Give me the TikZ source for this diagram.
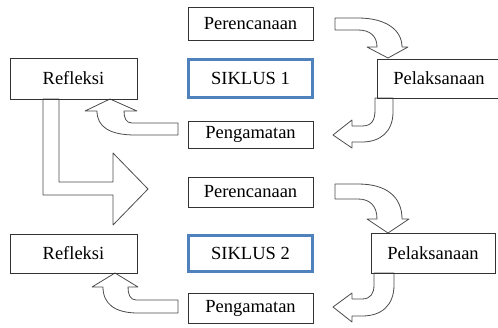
\documentclass[tikz,border=0pt]{standalone}
\usepackage{fontspec}
\setmainfont{Liberation Serif}
\usepackage{xcolor}
\usepackage{tikz}
\definecolor{siklusblue}{RGB}{79,129,189}
\tikzset{
	kotak/.style 2 args={draw=black!80,line width=1pt,minimum width=#1pt,minimum height=#2pt,inner sep=0pt,font=\fontsize{18.5}{22}\selectfont},
	siklus/.style 2 args={kotak={#1}{#2},draw=siklusblue,line width=3pt},
	panah/.style={draw=black!70,fill=white,line width=0.8pt,line join=round}
}

\begin{document}
\begin{tikzpicture}[x=1pt,y=-1pt]
		\useasboundingbox (0,0) rectangle (498,327);
		% block arrows
		\path[panah] (335,18) -- (358,18) .. controls (386,18) and (402,30) .. (402,47) -- (408,47) -- (388,58) -- (367,47) -- (377,47) .. controls (377,36) and (370,30) .. (358,30) -- (335,30) -- cycle;
		\path[panah] (375,98) -- (393,98) -- (393,112) .. controls (393,132) and (380,142) .. (362,142) -- (352,142) -- (352,148) -- (333,135) -- (352,120) -- (352,126) -- (362,126) .. controls (372,126) and (375,120) .. (375,110) -- cycle;
		\path[panah] (178,123) -- (132,123) .. controls (126,123) and (124,118) .. (124,111) -- (137,111) -- (110,99) -- (85,111) -- (97,111) .. controls (97,127) and (110,135) .. (135,135) -- (178,135) -- cycle;
		\path[panah] (43,99) -- (43,195) -- (113,195) -- (113,225) -- (148,189) -- (113,153) -- (113,182) -- (59,182) -- (59,99) -- cycle;
		\path[panah] (335,184) -- (358,184) .. controls (388,184) and (402,198) .. (402,219) -- (409,219) -- (388,233) -- (367,219) -- (377,219) .. controls (377,206) and (370,199) .. (358,199) -- (335,199) -- cycle;
		\path[panah] (374,273) -- (394,273) -- (394,285) .. controls (394,305) and (382,316) .. (362,316) -- (352,316) -- (352,322) -- (333,307) -- (352,293) -- (352,299) -- (362,299) .. controls (371,299) and (374,293) .. (374,285) -- cycle;
		\path[panah] (178,300) -- (136,300) .. controls (130,300) and (128,294) .. (128,287) -- (138,287) -- (115,273) -- (92,287) -- (103,287) .. controls (103,304) and (115,313) .. (138,313) -- (178,313) -- cycle;
		%
		% siklus 1
		\node[kotak={125}{33}] (rencana1) at (250.5,23.5) {Perencanaan};
		\node[siklus={124}{38}] (siklus1) at (250.5,78.5) {SIKLUS 1};
		\node[kotak={127}{41}] (refleksi1) at (73.5,78.5) {Refleksi};
		\node[kotak={124}{39}] (laksana1) at (439,78.5) {Pelaksanaan};
		\node[kotak={125}{27}] (amat1) at (250.5,134.5) {Pengamatan};
		%
		% siklus 2
		\node[kotak={125}{30}] (rencana2) at (250.5,192) {Perencanaan};
		\node[siklus={124}{36}] (siklus2) at (250.5,253.5) {SIKLUS 2};
		\node[kotak={127}{39}] (refleksi2) at (73.5,253.5) {Refleksi};
		\node[kotak={124}{40}] (laksana2) at (433,253) {Pelaksanaan};
		\node[kotak={125}{30}] (amat2) at (250.5,308) {Pengamatan};
		\end{tikzpicture}
\end{document}
